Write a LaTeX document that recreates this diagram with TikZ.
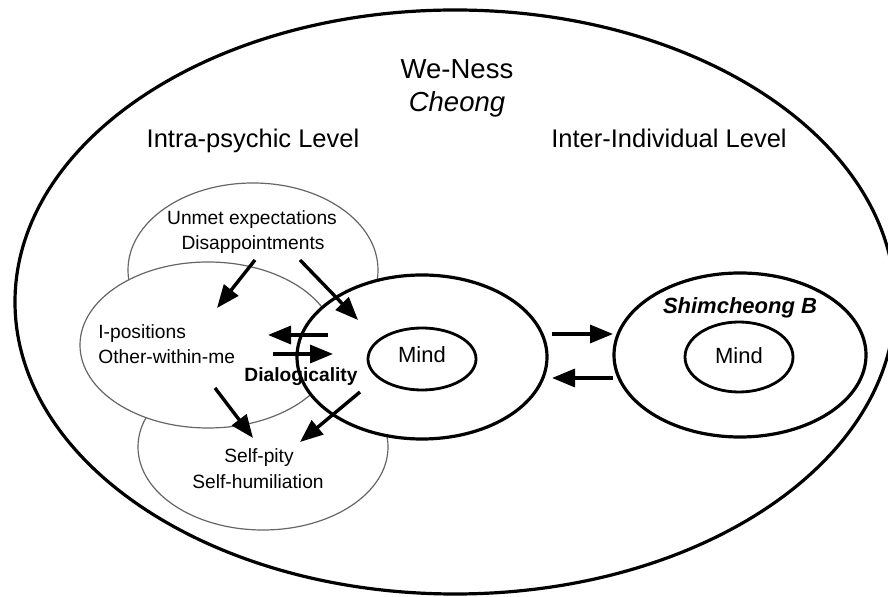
\documentclass[tikz,border=0pt]{standalone}
\usepackage{fontspec}
\setmainfont{Liberation Sans}
\usetikzlibrary{arrows.meta,shapes.geometric}
\begin{document}
\begin{tikzpicture}[x=0.5pt,y=-0.5pt,
  thinell/.style={ellipse, draw=black!60, line width=0.6pt, fill=white, inner sep=0pt},
  thickell/.style={ellipse, draw=black, line width=1.6pt, fill=white, inner sep=0pt},
  mindell/.style={ellipse, draw=black, line width=1.4pt, fill=white, inner sep=0pt},
  arr/.style={line width=1.7pt, -{Triangle[length=11.5pt,width=9pt]}},
  lbl/.style={anchor=base, inner sep=0pt},
  bigfont/.style={font=\fontsize{13.75}{16}\selectfont},
  levfont/.style={font=\fontsize{12.75}{15}\selectfont},
  smallfont/.style={font=\fontsize{9.6}{11.5}\selectfont},
  mindfont/.style={font=\fontsize{11}{13}\selectfont}]
\useasboundingbox (0,0) rectangle (888,597);
\clip (0,0) rectangle (888,597);
% outer ellipse
\node[ellipse, draw=black, line width=1.6pt, inner sep=0pt,
      minimum width=440pt, minimum height=292pt] (outer) at (455,302) {};
% intra-psychic ellipses
\node[thinell, minimum width=125pt, minimum height=87pt] (eunmet) at (253,270) {};
\node[thinell, minimum width=125pt, minimum height=83pt] (eself) at (263,447) {};
\node[thinell, minimum width=128pt, minimum height=83pt] (eipos) at (208,345) {};
% rings
\node[thickell, minimum width=125pt, minimum height=82pt] (ringL) at (422,357) {};
\node[mindell, minimum width=54pt, minimum height=31pt] (mindLe) at (422,359) {};
\node[thickell, minimum width=126pt, minimum height=82pt] (ringR) at (740,355) {};
\node[mindell, minimum width=54pt, minimum height=35pt] (mindRe) at (739,357) {};
% texts
\node[lbl, bigfont] (weness) at (457,79) {We-Ness};
\node[lbl, bigfont] (cheong) at (457,112) {\itshape Cheong};
\node[lbl, levfont] (intra) at (253,148) {Intra-psychic Level};
\node[lbl, levfont] (inter) at (669,148) {Inter-Individual Level};
\node[lbl, smallfont] (unmet) at (252,225) {Unmet expectations};
\node[lbl, smallfont] (disap) at (253,250) {Disappointments};
\node[lbl, smallfont, anchor=base west] (ipos) at (98,339) {I-positions};
\node[lbl, smallfont, anchor=base west] (other) at (98,364) {Other-within-me};
\node[lbl, smallfont] (dialog) at (301,382) {\bfseries Dialogicality};
\node[lbl, smallfont] (selfpity) at (259,463) {Self-pity};
\node[lbl, smallfont] (selfhum) at (258,489) {Self-humiliation};
\node[lbl, mindfont] (mindL) at (422,363) {Mind};
\node[lbl, mindfont] (shim) at (740,314) {\bfseries\itshape Shimcheong B};
\node[lbl, mindfont] (mindR) at (739,364) {Mind};
% arrow end points
\coordinate (a1s) at (255,260); \coordinate (a1e) at (217,308);
\coordinate (a2s) at (300,260); \coordinate (a2e) at (358,320);
\coordinate (a3s) at (328,335); \coordinate (a3e) at (268,335);
\coordinate (a4s) at (273,354); \coordinate (a4e) at (333,354);
\coordinate (a5s) at (215,388); \coordinate (a5e) at (253,438);
\coordinate (a6s) at (360,392); \coordinate (a6e) at (300,442);
\coordinate (a7s) at (552,334); \coordinate (a7e) at (613,334);
\coordinate (a8s) at (613,378); \coordinate (a8e) at (552,378);
\draw[arr] (a1s) -- (a1e);
\draw[arr] (a2s) -- (a2e);
\draw[arr] (a3s) -- (a3e);
\draw[arr] (a4s) -- (a4e);
\draw[arr] (a5s) -- (a5e);
\draw[arr] (a6s) -- (a6e);
\draw[arr] (a7s) -- (a7e);
\draw[arr] (a8s) -- (a8e);
\end{tikzpicture}
\end{document}
